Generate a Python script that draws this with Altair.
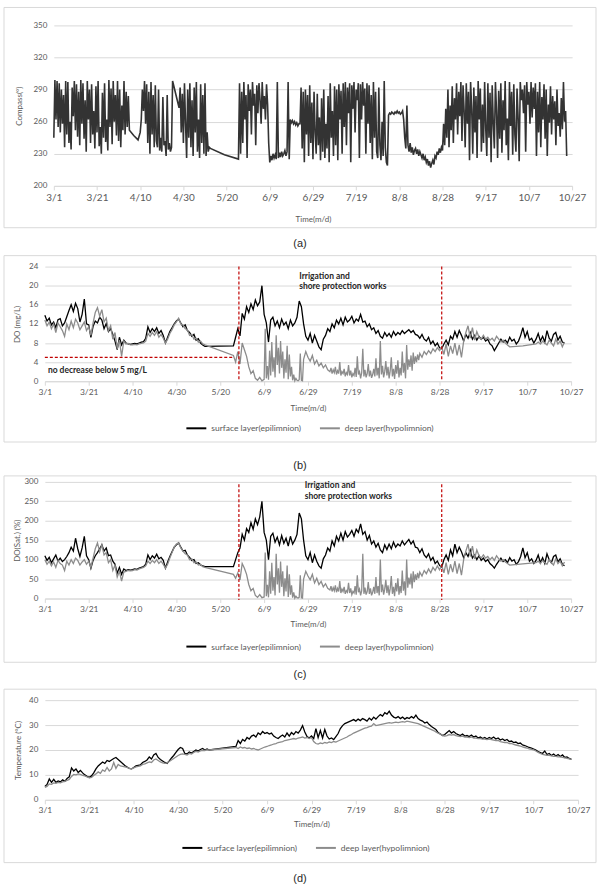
import altair as alt
import pandas as pd

# ---------------------------------------------------------------- axis text
TICK_DAYS = list(range(0, 241, 20))          # days after 1 March
TICK_LABELS = ["3/1", "3/21", "4/10", "4/30", "5/20", "6/9", "6/29",
               "7/19", "8/8", "8/28", "9/17", "10/7", "10/27"]
SURFACE = "surface layer(epilimnion)"
DEEP = "deep layer(hypolimnion)"
CAPTIONS = ["(a)", "(b)", "(c)", "(d)"]
WORKS_NOTE = ["Irrigation and", "shore protection works"]
DO_NOTE = "no decrease below 5 mg/L"

# works period (days after 1 March) and the 5 mg/L reference
WORKS_DAYS = [88.5, 181]
DO_LIMIT = 5
DO_LIMIT_DAYS = [0, 85.5]

# ---------------------------------------------------------------- readings
# every segment: (first day, spacing in days, readings)
compass_segments = [
    (0, 0.5, [245, 299, 262, 298, 255, 296, 250, 290, 258, 285,
              236, 298, 248, 297, 240, 260, 234, 292, 265, 298,
              252, 295, 246, 288, 238, 299, 258, 296, 244, 280,
              232, 298, 262, 290, 240, 295, 248, 270, 235, 293,
              250, 298, 237, 255, 230, 287, 245, 296, 241, 262,
              233, 299, 255, 291, 239, 298, 260, 285, 247, 298,
              242, 290, 236, 275, 252, 298, 248, 288, 255, 284]),
    (35, 2, [252, 247, 243]),
    (40, 0.5, [250, 262, 290, 270, 298, 258, 295, 240, 288, 230,
               297, 248, 285, 236, 294, 242, 236, 290, 233, 245,
               232, 283, 238, 242, 228, 285, 234, 240, 232, 236]),
    (55, 3, [298, 273]),
    (58.5, 0.5, [292, 250, 286, 240, 296, 258, 226, 290, 245, 296,
                 236, 280, 228, 292, 250, 297, 232, 262, 226, 295,
                 240, 285, 230, 296, 228, 250, 232, 236]),
    (72.5, 6.5, [235, 229, 225]),
    (86, 0.5, [296, 230, 288, 240, 297, 262, 285, 226, 295, 270,
               290, 248, 297, 275, 286, 238, 294, 268, 296, 280,
               258, 297, 272, 284, 262, 295, 276, 240]),
    (100, 0.5, [222, 228, 224, 230, 226, 229, 225, 297, 226, 231,
                227, 232, 228, 230, 233, 228, 232, 297, 225]),
    (109.5, 0.5, [262, 259, 261, 258, 260, 257, 259, 256, 258]),
    (114, 0.5, [258, 292, 235, 288, 222, 290, 248, 285, 228, 294,
                240, 278, 225, 288, 250, 230, 286, 238, 264, 224, 282,
                232, 290, 226, 258, 235, 284, 222, 296, 245, 270,
                228, 293, 238, 290, 224, 295, 262, 289, 230, 296,
                255, 297, 238, 292, 268, 296, 222, 294, 272, 297,
                250, 290, 280, 296, 226, 295, 262, 297, 275, 291,
                230, 296, 258, 294, 240, 285, 225, 297, 245, 288,
                232, 226, 292, 238, 224, 260, 228, 298, 236, 222, 219]),
    (155, 0.5, [266, 268, 267, 269, 268, 267, 269, 268, 270, 268,
                269, 267, 268, 270]),
    (162, 0.5, [262, 245, 235, 275, 238, 232, 240, 231, 236, 229,
                233, 235, 230, 234, 228, 232, 229, 226, 230, 224,
                227, 222, 225, 219, 223, 217, 221]),
    (175.5, 0.5, [224, 220, 228, 226, 232, 229, 235, 231, 236, 233]),
    (180.5, 0.5, [258, 238, 272, 245, 290, 236, 275, 252, 293, 240,
                  282, 262, 296, 248, 288, 265, 297, 242, 294, 270,
                  236, 296, 258, 288, 224, 297, 272, 230, 292, 250,
                  284, 226, 298, 262, 291, 232, 276, 240, 297, 254,
                  228, 296, 245, 287, 222, 294, 258, 235, 297, 270,
                  226, 289, 244, 296, 231, 280, 252, 298, 238, 263,
                  224, 297, 256, 288, 229, 295, 248, 232, 291, 264,
                  223, 297, 280, 290, 268, 294, 232, 297, 276, 288,
                  258, 297, 264, 292, 272, 296, 228, 288, 250, 297,
                  236, 283, 262, 295, 244, 290, 228, 276, 259, 293,
                  248, 284, 262, 279, 238, 290, 256, 268, 246, 282,
                  253, 297, 260, 270, 228]),
]

do_surface_segments = [
    (0, 1, [13.8, 12.6, 13.2, 11.8, 12.4, 11.2, 12.9, 13.1, 11.6, 12.2,
            13.5, 14.8, 16.0, 14.6, 16.3, 15.2, 12.4, 14.0, 17.2, 12.0,
            11.8, 9.2, 11.5, 12.6, 12.2, 13.4, 12.8, 11.0, 12.1, 10.4,
            11.0, 9.8, 8.4, 6.6, 9.2, 7.6, 8.6, 8.0, 7.8, 7.7,
            7.8, 7.9, 7.8, 8.0, 8.2, 8.3, 9.0, 11.4, 10.2, 11.0,
            10.4, 11.2, 10.0, 10.6, 9.6, 8.0, 9.2, 10.4, 11.2, 12.0,
            12.6, 13.0, 12.2, 11.4, 11.8, 10.6, 10.2, 9.4, 9.8, 8.6,
            8.9, 8.0, 7.6, 7.3]),
    (86, 1, [7.4, 9.2, 11.0, 9.5,
             14.2, 13.0, 15.6, 14.4, 16.2, 15.0, 17.0, 15.8, 16.6, 20.0,
             14.0, 12.2, 8.2, 12.8, 13.4, 11.6, 12.6, 11.2, 13.0, 11.8,
             12.4, 11.0, 12.8, 11.6, 12.2, 13.4, 16.8, 15.6, 12.0, 9.4,
             8.6, 10.0, 8.0, 9.6, 8.4, 7.2, 6.6, 8.8, 9.6, 11.0,
             10.4, 12.0, 11.2, 12.8, 12.0, 13.2, 11.8, 13.4, 12.4, 12.8,
             13.6, 12.2, 13.0, 12.6, 14.0, 12.4, 12.6, 11.4, 12.0, 10.8,
             11.2, 10.0, 10.6, 9.4, 9.0, 10.2, 9.4, 10.0, 9.2, 10.4,
             9.6, 10.2, 9.8, 10.6, 10.0, 10.4, 10.8, 10.2, 10.6, 9.8,
             9.6, 9.0, 9.8, 8.8, 8.4, 9.2, 7.8, 8.4, 7.4, 8.0,
             7.0, 6.8, 7.8, 8.6, 7.6, 9.4, 8.8, 10.4, 9.2, 10.6,
             9.6, 8.4, 9.8, 9.0, 10.2, 8.8, 9.6, 8.6, 9.4, 8.8,
             9.2, 8.4, 8.8, 7.8, 7.4, 6.4, 7.2, 8.0, 8.8, 8.2,
             8.6, 8.0, 9.2, 8.4, 8.8, 7.8, 8.4, 9.6, 11.2, 9.2,
             10.4, 8.6, 9.0, 8.0, 8.8, 10.0, 8.4, 9.4, 8.2, 10.6,
             9.0, 8.4, 9.8, 10.2, 8.6, 9.4, 8.2, 8.0]),
]

do_deep_segments = [
    (0, 1, [12.8, 11.6, 12.4, 11.0, 12.0, 10.2, 12.2, 11.4, 10.6, 9.4,
            12.0, 10.8, 12.6, 11.2, 13.0, 12.2, 10.8, 11.6, 12.4, 10.6,
            11.4, 9.6, 12.2, 14.4, 15.4, 13.6, 15.0, 12.4, 13.2, 10.6,
            11.6, 8.8, 10.2, 6.8, 8.6, 5.2, 8.4, 7.8, 7.9, 7.6,
            7.6, 7.7, 7.6, 7.8, 7.9, 8.0, 8.4, 10.0, 9.4, 10.2,
            9.6, 10.4, 9.2, 9.8, 9.0, 8.0, 8.8, 10.0, 10.8, 11.8,
            12.4, 13.2, 12.0, 11.8, 11.0, 10.8, 9.6, 9.8, 8.8, 9.0,
            8.2, 8.4, 7.8, 7.6]),
    (86, 1, [5.4, 4.0, 6.2, 3.6, 8.0, 6.6, 5.2, 3.0, 1.6, 2.2, 0.6, 0.2, 0.8, 0.1]),
    (100, 0.5, [0.4, 11.0, 0.6, 3.2, 0.3, 6.4, 1.2, 8.2, 2.0, 5.0,
                0.8, 9.6, 3.4, 7.0, 1.6, 8.4, 2.8, 6.2, 0.6, 4.6,
                1.8, 7.4, 0.4, 5.6, 1.0, 3.0, 0.2, 1.4, 0.1, 0.6,
                0.2, 0.1, 0.3, 5.8, 0.2, 0.1]),
    (118, 1, [4.6, 6.2, 5.0, 4.2, 5.4, 3.6, 4.4, 3.2, 3.8, 2.8, 3.4, 2.4]),
    (130, 0.5, [2.0, 2.8, 1.6, 2.4, 1.8, 3.0, 1.4, 2.2, 1.6, 4.0,
                1.2, 2.0, 1.6, 2.6, 1.0, 1.8, 1.4, 3.4, 1.2, 2.2,
                0.8, 1.6, 1.2, 2.8, 0.9, 5.2, 1.4, 2.0, 0.6, 1.8,
                6.8, 1.0, 2.4, 0.8, 1.6, 3.6, 1.0, 2.2, 0.7, 1.4,
                2.6, 1.0, 4.8, 1.2, 2.8, 0.6, 8.4, 1.4, 3.2, 0.8,
                2.0, 4.2, 1.2, 3.0, 0.6, 2.2, 5.0, 1.0, 2.6, 0.5,
                3.4, 1.6, 4.4, 0.8, 2.8, 1.2, 6.2, 1.8, 3.8, 0.6,
                7.6, 2.4, 4.6, 3.0, 5.4, 2.2, 6.0, 3.6, 5.2, 4.0,
                5.6, 4.4]),
    (171, 1, [5.8, 5.0, 6.2, 5.6, 6.4, 5.8, 6.8, 6.2, 7.0, 6.4,
              7.2, 5.6, 7.8, 5.2, 7.4, 5.8, 8.0, 5.4, 7.6, 5.0]),
    (191, 1, [8.4, 10.2, 11.6, 9.0, 11.2, 8.6, 10.4, 9.2, 8.8]),
    (200, 1, [9.6, 8.8, 9.2, 8.6, 9.0, 8.4, 9.4, 8.8, 8.2, 8.6, 8.0, 7.6, 7.2]),
    (218, 6, [7.4, 7.8]),
    (225, 1, [8.2, 7.8, 8.4, 8.0, 7.6, 8.6, 8.0, 7.4, 8.8, 7.8, 8.4, 7.2, 8.2]),
]

sat_surface_segments = [
    (0, 1, [110, 98, 106, 92, 102, 112, 96, 104, 95, 100,
            108, 118, 132, 122, 155, 128, 108, 130, 160, 110,
            100, 78, 98, 110, 118, 128, 138, 122, 130, 110,
            112, 96, 88, 65, 80, 62, 76, 72, 74, 73,
            74, 76, 75, 78, 80, 82, 88, 112, 100, 110,
            104, 114, 102, 106, 98, 78, 94, 108, 120, 132,
            138, 143, 132, 122, 124, 112, 106, 98, 100, 90,
            92, 86, 84, 82]),
    (86, 1, [82, 100, 118, 130,
             165, 150, 180, 170, 195, 178, 205, 190, 210, 250,
             170, 150, 100, 160, 168, 145, 158, 138, 162, 142,
             155, 135, 160, 140, 150, 165, 220, 205, 150, 110,
             100, 118, 92, 112, 96, 84, 78, 102, 112, 130,
             122, 148, 135, 160, 148, 168, 150, 172, 158, 165,
             175, 160, 178, 170, 192, 165, 172, 150, 162, 140,
             148, 132, 142, 125, 118, 138, 126, 140, 128, 145,
             132, 140, 135, 148, 138, 145, 152, 140, 148, 132,
             130, 118, 128, 112, 105, 115, 98, 106, 90, 96,
             85, 80, 100, 112, 98, 125, 110, 140, 118, 132,
             120, 105, 118, 108, 125, 104, 112, 100, 110, 98,
             104, 95, 100, 90, 85, 78, 88, 96, 104, 95,
             100, 92, 105, 96, 100, 88, 95, 108, 130, 105,
             118, 96, 102, 90, 98, 112, 92, 105, 90, 115,
             100, 92, 108, 112, 94, 102, 88, 84]),
]

sat_deep_segments = [
    (0, 1, [100, 88, 96, 84, 94, 80, 98, 90, 86, 72,
            96, 86, 100, 90, 104, 98, 86, 94, 100, 88,
            96, 80, 104, 128, 143, 120, 138, 112, 118, 92,
            100, 72, 86, 55, 70, 45, 68, 70, 72, 71,
            72, 74, 73, 76, 78, 80, 84, 96, 90, 98,
            92, 100, 90, 96, 88, 78, 88, 104, 118, 132,
            140, 143, 130, 122, 115, 112, 100, 102, 92, 94,
            86, 88, 82, 80]),
    (86, 1, [62, 52, 66, 48, 90, 78, 62, 36, 20, 26, 8, 3, 10, 2]),
    (100, 0.5, [4, 118, 6, 35, 3, 70, 12, 92, 20, 55,
                8, 115, 36, 78, 15, 95, 30, 70, 6, 52,
                18, 85, 4, 62, 10, 34, 2, 16, 1, 6,
                2, 1, 3, 60, 2, 1]),
    (118, 1, [50, 70, 58, 48, 62, 40, 52, 36, 44, 30, 38, 26]),
    (130, 0.5, [22, 32, 18, 28, 20, 34, 16, 26, 18, 45,
                14, 24, 18, 30, 12, 20, 16, 40, 14, 26,
                10, 18, 14, 32, 10, 60, 16, 24, 8, 20,
                115, 12, 28, 10, 18, 42, 12, 26, 8, 16,
                30, 12, 55, 14, 32, 8, 100, 16, 36, 10,
                24, 48, 14, 34, 8, 26, 58, 12, 30, 6,
                40, 18, 52, 10, 32, 14, 72, 20, 44, 8,
                100, 28, 54, 36, 64, 26, 70, 42, 62, 48,
                66, 52]),
    (171, 1, [68, 58, 72, 64, 76, 66, 80, 72, 84, 74,
              86, 66, 92, 62, 88, 68, 96, 64, 90, 60]),
    (191, 1, [100, 122, 140, 108, 135, 102, 125, 110, 104]),
    (200, 1, [112, 104, 108, 100, 106, 98, 110, 102, 96, 100, 94, 90, 86]),
    (218, 6, [89, 92]),
    (225, 1, [96, 90, 98, 92, 88, 100, 92, 86, 102, 90, 96, 84, 94]),
]

temp_surface_segments = [
    (0, 1, [5.4, 6.2, 8.4, 7.0, 8.2, 7.0, 7.6, 7.2, 8.0, 7.4,
            8.6, 9.2, 12.8, 11.6, 12.4, 11.0, 11.8, 10.8, 10.0, 9.4,
            9.0, 9.6, 10.8, 12.4, 13.6, 14.4, 15.2, 14.6, 15.8, 15.4,
            16.0, 16.6, 17.0, 16.2, 15.4, 14.6, 13.8, 13.2, 12.6, 12.4,
            13.0, 13.6, 13.8, 14.0, 15.0, 15.4, 16.0, 17.2, 16.4, 18.0,
            18.6, 17.0, 16.2, 15.6, 15.0, 14.6, 15.6, 16.8, 17.8, 19.0,
            20.2, 21.0, 20.6, 18.6, 18.4, 19.2, 18.8, 19.4, 20.0, 19.6,
            20.2, 20.6, 20.0, 20.4, 20.0]),
    (86, 1, [21.4, 23.8, 22.6, 24.2, 23.6, 25.0, 24.4, 25.6, 26.0, 25.2, 26.8, 26.2, 27.4, 26.6,
             27.0, 26.4, 26.8, 25.6, 25.0, 24.6, 25.4, 26.0, 25.2, 26.8,
             25.6, 27.0, 26.2, 27.4, 26.8, 28.0, 29.8, 27.2, 25.4, 24.8,
             25.6, 24.6, 28.6, 25.0, 27.8, 24.8, 28.2, 25.6, 24.4, 24.8,
             24.2, 25.4, 26.6, 28.6, 29.8, 30.6, 31.0, 31.4, 31.8, 32.2,
             31.6, 32.4, 31.8, 32.6, 32.2, 31.6, 32.8, 32.0, 33.2, 32.4,
             33.4, 34.2, 33.6, 35.0, 34.4, 35.6, 34.0, 33.2, 32.8, 33.4,
             32.6, 33.2, 32.4, 33.0, 32.6, 33.4, 32.8, 34.0, 32.6, 32.0,
             31.6, 30.8, 31.2, 30.2, 29.4, 28.8, 28.2, 27.0, 26.4, 25.8,
             26.2, 27.0, 27.8, 26.8, 27.4, 26.6, 26.2, 25.8, 26.4, 25.6,
             25.8, 25.4, 26.0, 25.2, 25.6, 24.8, 25.2, 24.6, 25.0, 24.4,
             25.0, 24.6, 25.2, 24.4, 24.8, 24.0, 24.4, 23.8, 24.2, 23.4,
             23.6, 23.0, 23.2, 22.6, 22.8, 22.0, 21.8, 21.4, 21.0, 20.8,
             20.4, 20.0, 19.4, 19.0, 18.6, 19.6, 18.2, 18.6, 17.8, 18.4,
             17.6, 18.2, 17.4, 18.0, 17.0, 17.2, 16.6, 16.2]),
]

temp_deep_segments = [
    (0, 1, [5.0, 5.4, 6.4, 6.2, 6.8, 6.6, 7.0, 6.8, 7.2, 7.4,
            7.8, 8.2, 9.4, 10.2, 10.0, 10.4, 10.2, 9.8, 9.6, 9.2,
            8.8, 9.0, 9.8, 10.4, 11.2, 10.6, 12.0, 11.4, 13.0, 11.6,
            12.4, 15.0, 12.6, 14.2, 13.6, 13.4, 13.2, 13.0, 12.6, 12.4,
            12.8, 13.2, 13.4, 13.6, 14.2, 14.4, 14.8, 15.2, 15.0, 16.0,
            16.4, 15.8, 15.2, 14.8, 14.6, 14.8, 15.4, 16.0, 16.6, 17.2,
            17.8, 18.2, 18.4, 18.2, 18.0, 18.6, 18.4, 19.0, 19.4, 19.2,
            19.6, 19.8, 19.8, 20.0, 20.0]),
    (86, 1, [21.0, 20.6, 21.2, 20.8, 21.0, 20.6, 20.8, 20.4, 20.6, 20.2, 20.0, 20.4, 20.8, 21.2,
             21.4, 21.8, 22.0, 22.4, 22.6, 23.0, 23.2, 23.4, 23.8, 24.0,
             24.2, 24.4, 24.6, 24.4, 24.8, 25.0, 25.2, 24.8, 25.0, 24.6,
             25.0, 23.4, 22.6, 22.4, 22.8, 22.6, 23.0, 22.8, 23.2, 23.0,
             23.4, 23.2, 23.6, 24.0, 24.4, 24.8, 25.2, 25.8, 26.2, 26.8,
             27.2, 27.6, 28.0, 28.4, 28.8, 29.0, 29.4, 29.6, 30.6, 29.8,
             30.0, 30.2, 30.4, 30.6, 30.8, 31.0, 30.8, 31.0, 31.2, 31.0,
             31.2, 31.4, 31.2, 31.6, 31.4, 31.2, 31.0, 30.8, 30.6, 30.2,
             29.8, 29.4, 29.0, 28.6, 28.2, 27.8, 27.2, 26.8, 26.4, 25.8,
             25.6, 25.8, 26.2, 26.0, 26.2, 25.8, 25.6, 25.4, 25.6, 25.2,
             25.2, 25.0, 25.2, 24.8, 24.8, 24.6, 24.6, 24.4, 24.4, 24.2,
             24.4, 24.2, 24.0, 23.8, 23.8, 23.4, 23.2, 23.0, 23.0, 22.6,
             22.6, 22.2, 22.0, 21.8, 21.6, 21.2, 21.0, 20.8, 20.4, 20.2,
             20.0, 19.6, 19.0, 18.6, 18.2, 18.0, 17.8, 17.8, 17.6, 17.4,
             17.4, 17.2, 17.2, 17.0, 16.8, 16.6, 16.4, 16.2]),
]

# ---------------------------------------------------------------- styling
FONT = "Lato"
TEXT_GRAY = "#595959"
GRID_GRAY = "#d9d9d9"
FRAME_GRAY = "#d9d9d9"
WORKS_RED = "#c00000"
LABEL_EXPR = "[" + ",".join(f"'{t}'" for t in TICK_LABELS) + "][round(datum.value / 20)]"


def readings(segments, layer=None):
    rows = []
    for start, step, values in segments:
        for i, v in enumerate(values):
            rows.append({"day": start + i * step, "value": v, "layer": layer})
    return pd.DataFrame(rows)


def x_enc(label_size, label_pad, title_y):
    return alt.X(
        "day:Q",
        scale=alt.Scale(domain=[0, 240], nice=False, zero=False),
        axis=alt.Axis(values=TICK_DAYS, labelExpr=LABEL_EXPR, title="Time(m/d)",
                      grid=False, domainColor=GRID_GRAY, tickColor=GRID_GRAY,
                      tickSize=4, labelFont=FONT, labelFontSize=label_size,
                      labelColor=TEXT_GRAY, labelPadding=label_pad,
                      labelOverlap=False, labelFlush=False, labelBound=False,
                      titleFont=FONT, titleFontSize=8,
                      titleFontWeight="normal", titleColor=TEXT_GRAY,
                      titleY=title_y, titleBaseline="middle"),
    )


def y_enc(domain, ticks, title, title_x, height):
    return alt.Y(
        "value:Q",
        scale=alt.Scale(domain=domain, nice=False, zero=False),
        axis=alt.Axis(values=ticks, title=title, domain=False, ticks=False,
                      gridColor=GRID_GRAY, gridWidth=1, labelFont=FONT,
                      labelFontSize=8, labelColor=TEXT_GRAY, labelPadding=7,
                      labelFlush=False,
                      titleFont=FONT, titleFontSize=8, titleFontWeight="normal",
                      titleColor=TEXT_GRAY, titleX=title_x, titleY=height / 2,
                      titleAngle=270, titleAlign="center", titleBaseline="middle"),
    )


def frame(x0, x1, y0, y1, block_bottom, cap_x, cap_y, caption):
    """Light outline round a panel, a spacer fixing the panel's height, and its caption."""
    one = pd.DataFrame({"caption": [caption]})
    box = alt.Chart(one).mark_rect(filled=False, color=FRAME_GRAY, strokeWidth=1).encode(
        x=alt.value(x0), x2=alt.value(x1), y=alt.value(y0), y2=alt.value(y1))
    block = alt.Chart(one).mark_rect(fill="white", fillOpacity=0.001, strokeWidth=0).encode(
        x=alt.value(x0), x2=alt.value(x1), y=alt.value(y0), y2=alt.value(block_bottom))
    cap = alt.Chart(one).mark_text(font="Liberation Sans", fontSize=11, color="#262626",
                                   baseline="middle").encode(
        x=alt.value(cap_x), y=alt.value(cap_y), text="caption:N")
    return [box, block, cap]


def legend(lx, ly):
    return alt.Legend(orient="none", legendX=lx, legendY=ly, direction="horizontal",
                      title=None, symbolType="stroke", symbolStrokeWidth=2,
                      symbolSize=400, labelFont=FONT, labelFontSize=8.5,
                      labelColor=TEXT_GRAY, columnPadding=14, padding=0,
                      labelLimit=0)


def layer_colour(lg):
    return alt.Color("layer:N",
                     scale=alt.Scale(domain=[SURFACE, DEEP], range=["#000000", "#8c8c8c"]),
                     legend=lg)


def works_layers(x, y, top, bottom, note_day, note_values):
    rules = pd.DataFrame({"day": WORKS_DAYS, "value": [top] * 2, "bottom": [bottom] * 2})
    vlines = alt.Chart(rules).mark_rule(color=WORKS_RED, strokeDash=[3, 2],
                                        strokeWidth=1.2).encode(
        x=x, y=y, y2="bottom:Q")
    note = pd.DataFrame({"day": [note_day] * 2, "value": note_values, "text": WORKS_NOTE})
    text = alt.Chart(note).mark_text(align="left", baseline="middle", font=FONT,
                                     fontSize=8.5, fontWeight="bold",
                                     color="#262626").encode(x=x, y=y, text="text:N")
    return [vlines, text]


def own_row(panel):
    # a 1 px blank cell in front of each panel puts every outline at the same left edge,
    # so each plot area keeps its own offset inside its outline
    one = pd.DataFrame({"k": [0]})
    lead = alt.Chart(one).mark_rect(fill="white", fillOpacity=0.001, strokeWidth=0).encode(
        x=alt.value(0), x2=alt.value(1), y=alt.value(0), y2=alt.value(1)
    ).properties(width=1, height=1)
    return alt.hconcat(lead, panel, spacing=0).resolve_scale(
        color="independent", x="independent", y="independent")


# ---------------------------------------------------------------- (a) compass
wa, ha = 520, 161
xa = x_enc(10, 3, 34)
ya = y_enc([200, 350], [200, 230, 260, 290, 320, 350], "Compass(°)", -34, ha)
compass = alt.Chart(readings(compass_segments)).mark_line(
    color="#333333", strokeWidth=1.6).encode(x=xa, y=ya)
panel_a = alt.layer(*frame(-50, 544, -18, 203, 230, 247, 219, CAPTIONS[0]),
                    compass).properties(width=wa, height=ha)

# ---------------------------------------------------------------- (b) DO mg/L
wb, hb = 528, 115
xb = x_enc(8.5, 2, 27)
yb = y_enc([0, 24], [0, 4, 8, 12, 16, 20, 24], "DO (mg/L)", -27, hb)
lb = legend(141, 151)
b_surface = alt.Chart(readings(do_surface_segments, SURFACE)).mark_line(strokeWidth=1.3).encode(
    x=xb, y=yb, color=layer_colour(lb))
b_deep = alt.Chart(readings(do_deep_segments, DEEP)).mark_line(strokeWidth=1.3).encode(
    x=xb, y=yb, color=layer_colour(lb))
limit = pd.DataFrame({"day": [DO_LIMIT_DAYS[0]], "end": [DO_LIMIT_DAYS[1]], "value": [DO_LIMIT]})
b_limit = alt.Chart(limit).mark_rule(color=WORKS_RED, strokeDash=[3, 2], strokeWidth=1.2).encode(
    x=xb, x2="end:Q", y=yb)
limit_note = pd.DataFrame({"day": [1.4], "value": [2.4], "text": [DO_NOTE]})
b_note = alt.Chart(limit_note).mark_text(align="left", baseline="middle", font=FONT,
                                         fontSize=8.5, fontWeight="bold",
                                         color="#262626").encode(x=xb, y=yb, text="text:N")
panel_b = alt.layer(*frame(-41, 553, -11, 176, 209, 256, 200, CAPTIONS[1]),
                    b_surface, b_deep, b_limit, b_note,
                    *works_layers(xb, yb, 24, 0, 116, [22.1, 20.0])).properties(width=wb, height=hb)

# ---------------------------------------------------------------- (c) DO saturation
wc, hc = 528, 117
xc = x_enc(8.5, 2, 26)
yc = y_enc([0, 300], [0, 50, 100, 150, 200, 250, 300], "DO(Sat.) (%)", -27, hc)
lc = legend(141, 154)
c_surface = alt.Chart(readings(sat_surface_segments, SURFACE)).mark_line(strokeWidth=1.3).encode(
    x=xc, y=yc, color=layer_colour(lc))
c_deep = alt.Chart(readings(sat_deep_segments, DEEP)).mark_line(strokeWidth=1.3).encode(
    x=xc, y=yc, color=layer_colour(lc))
panel_c = alt.layer(*frame(-41, 553, -6, 181, 207, 256, 194, CAPTIONS[2]),
                    c_surface, c_deep,
                    *works_layers(xc, yc, 294, -4, 118.5, [291, 263])).properties(width=wc, height=hc)

# ---------------------------------------------------------------- (d) temperature
wd, hd = 535, 100
xd = x_enc(8.5, 2, 25)
yd = y_enc([0, 40], [0, 10, 20, 30, 40], "Temperature (°C)", -26, hd)
ld = legend(137, 137)
d_surface = alt.Chart(readings(temp_surface_segments, SURFACE)).mark_line(strokeWidth=1.3).encode(
    x=xd, y=yd, color=layer_colour(ld))
d_deep = alt.Chart(readings(temp_deep_segments, DEEP)).mark_line(strokeWidth=1.3).encode(
    x=xd, y=yd, color=layer_colour(ld))
panel_d = alt.layer(*frame(-41, 553, -11, 163, 191, 256, 179, CAPTIONS[3]),
                    d_surface, d_deep).properties(width=wd, height=hd)

chart = alt.vconcat(own_row(panel_a), own_row(panel_b), own_row(panel_c), own_row(panel_d),
                    spacing=0).resolve_scale(
    color="independent", x="independent", y="independent"
).properties(
    padding={"left": 2, "top": 5, "right": 4, "bottom": 0},
    background="white",
).configure_view(stroke=None)

chart.save("out.html", embed_options={"renderer": "svg", "actions": False})
